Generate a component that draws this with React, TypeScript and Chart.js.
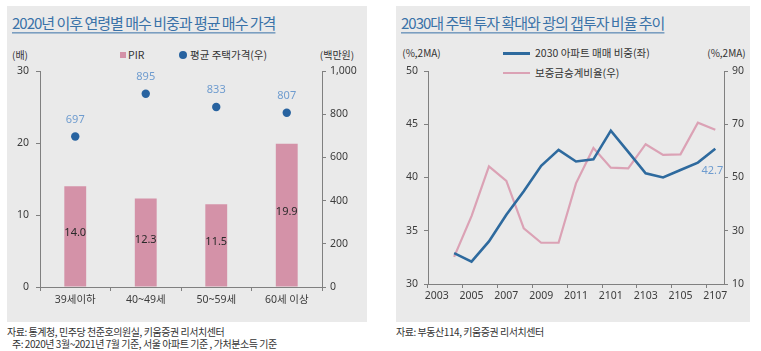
import React, { useEffect, useRef } from "react";
import { Chart, registerables } from "chart.js";

Chart.register(...registerables);

// ---------- Data ----------
const ageCategories = ["39세이하", "40~49세", "50~59세", "60세 이상"];
const pirValues = [14.0, 12.3, 11.5, 19.9];
const avgPriceValues = [697, 895, 833, 807];

const monthLabels = [
  "2003", "2004", "2005", "2006", "2007", "2008", "2009", "2010", "2011", "2012",
  "2101", "2102", "2103", "2104", "2105", "2106", "2107",
];
const youngShareValues = [
  null, 32.9, 32.1, 34.0, 36.5, 38.7, 41.1, 42.6, 41.5, 41.7,
  44.4, 42.4, 40.4, 40.0, 40.7, 41.4, 42.7,
];
const depositRatioValues = [
  null, 20.2, 35.5, 54.2, 48.7, 30.9, 25.5, 25.5, 47.8, 61.1,
  53.7, 53.4, 62.5, 58.5, 58.7, 70.6, 67.9,
];

// ---------- Styles ----------
const PINK_BAR = "#D492A8";
const BLUE_DOT = "#2863A0";
const BLUE_LINE = "#2E6A9E";
const PINK_LINE = "#DBA2B5";
const LABEL_BLUE = "#6F9CCF";
const AXIS = "#808080";
const TICK_TEXT = "#3c3c3c";
const PANEL_BG = "#EAEAEA";
const TITLE_BLUE = "#3A72A8";
const FONT = "'Noto Sans', 'Noto Sans CJK KR', sans-serif";
const KFONT = "'Noto Sans CJK KR', 'Noto Sans', sans-serif";

Chart.defaults.font.family = FONT;
Chart.defaults.color = TICK_TEXT;

const valueLabelPlugin = {
  id: "valueLabels",
  afterDatasetsDraw(chart: any) {
    const ctx = chart.ctx;
    chart.data.datasets.forEach((ds: any, di: number) => {
      const cfg = ds.valueLabel;
      if (!cfg) return;
      const meta = chart.getDatasetMeta(di);
      meta.data.forEach((el: any, i: number) => {
        const v = ds.data[i];
        if (v === null || v === undefined) return;
        if (cfg.onlyLast && i !== ds.data.length - 1) return;
        let x = el.x + (cfg.dx || 0);
        let y: number;
        if (cfg.mode === "barCenter") y = (el.y + el.base) / 2 + (cfg.dy || 0);
        else y = el.y + (cfg.dy || 0);
        ctx.save();
        ctx.font = cfg.font;
        ctx.fillStyle = cfg.color;
        ctx.textAlign = "center";
        ctx.textBaseline = "middle";
        ctx.fillText(cfg.format(v), x, y);
        ctx.restore();
      });
    });
  },
};

function Txt(props: {
  x: number; y: number; size: number; color?: string; children: any;
  center?: boolean; right?: boolean; family?: string; ls?: number; weight?: number; underline?: boolean;
}) {
  const tx = props.center ? "-50%" : props.right ? "-100%" : "0";
  return (
    <div
      style={{
        position: "absolute",
        left: props.x,
        top: props.y,
        transform: `translate(${tx}, -50%)`,
        fontSize: props.size,
        lineHeight: 1.15,
        color: props.color || "#333",
        fontFamily: props.family || KFONT,
        letterSpacing: props.ls ?? 0,
        whiteSpace: "nowrap",
        fontWeight: props.weight ?? 400,
        textDecoration: props.underline ? "underline" : "none",
        textUnderlineOffset: 3,
      }}
    >
      {props.children}
    </div>
  );
}

function LeftChart() {
  const ref = useRef<HTMLCanvasElement>(null);
  useEffect(() => {
    const chart = new Chart(ref.current!, {
      type: "bar",
      data: {
        labels: ageCategories,
        datasets: [
          {
            type: "line",
            label: "평균 주택가격(우)",
            data: avgPriceValues,
            yAxisID: "y1",
            showLine: false,
            pointRadius: 4.2,
            pointBackgroundColor: BLUE_DOT,
            pointBorderWidth: 0,
            order: 1,
            valueLabel: { color: LABEL_BLUE, font: `11px ${FONT}`, dy: -17, format: (v: number) => String(v) },
          } as any,
          {
            type: "bar",
            label: "PIR",
            data: pirValues,
            yAxisID: "y",
            backgroundColor: PINK_BAR,
            barPercentage: 0.31,
            categoryPercentage: 1,
            order: 2,
            valueLabel: { mode: "barCenter", color: "#2a2a2a", font: `11px ${FONT}`, dy: -3, format: (v: number) => v.toFixed(1) },
          } as any,
        ],
      },
      options: {
        animation: false,
        responsive: false,
        maintainAspectRatio: false,
        layout: { padding: { top: 31, left: 0, right: 0, bottom: 0 } },
        plugins: { legend: { display: false }, tooltip: { enabled: false }, title: { display: false } },
        scales: {
          x: {
            offset: true,
            grid: { display: true, drawOnChartArea: false, drawTicks: true, tickLength: 4, color: AXIS, offset: true },
            border: { color: AXIS },
            ticks: { font: { size: 10.5 }, padding: 3, color: TICK_TEXT, maxRotation: 0, autoSkip: false },
            afterFit: (s: any) => { s.height = 35; },
          },
          y: {
            position: "left",
            min: 0,
            max: 30,
            ticks: { stepSize: 10, padding: 7, font: { size: 10.5 }, color: TICK_TEXT },
            grid: { drawOnChartArea: false, tickLength: 4, color: AXIS },
            border: { color: AXIS },
            afterFit: (s: any) => { s.width = 33; },
          },
          y1: {
            position: "right",
            min: 0,
            max: 1000,
            ticks: { stepSize: 200, padding: 4, font: { size: 10.5 }, color: TICK_TEXT },
            grid: { drawOnChartArea: false, tickLength: 4, color: AXIS },
            border: { color: AXIS },
            afterFit: (s: any) => { s.width = 45; },
          },
        },
      } as any,
      plugins: [valueLabelPlugin],
    });
    return () => chart.destroy();
  }, []);
  return (
    <canvas
      ref={ref}
      width={360}
      height={282}
      style={{ position: "absolute", left: 7, top: 40, width: 360, height: 282 }}
    />
  );
}

function RightChart() {
  const ref = useRef<HTMLCanvasElement>(null);
  useEffect(() => {
    const chart = new Chart(ref.current!, {
      type: "line",
      data: {
        labels: monthLabels,
        datasets: [
          {
            label: "2030 아파트 매매 비중(좌)",
            data: youngShareValues,
            yAxisID: "y",
            borderColor: BLUE_LINE,
            borderWidth: 2.6,
            pointRadius: 0,
            tension: 0,
            order: 1,
            valueLabel: { onlyLast: true, color: LABEL_BLUE, font: `11px ${FONT}`, dx: -3, dy: 22, format: (v: number) => v.toFixed(1) },
          } as any,
          {
            label: "보증금승계비율(우)",
            data: depositRatioValues,
            yAxisID: "y1",
            borderColor: PINK_LINE,
            borderWidth: 2.2,
            pointRadius: 0,
            tension: 0,
            order: 2,
          } as any,
        ],
      },
      options: {
        animation: false,
        responsive: false,
        maintainAspectRatio: false,
        layout: { padding: { top: 31, left: 0, right: 0, bottom: 0 } },
        plugins: { legend: { display: false }, tooltip: { enabled: false }, title: { display: false } },
        scales: {
          x: {
            type: "category",
            offset: true,
            grid: {
              display: true,
              drawOnChartArea: false,
              drawTicks: true,
              tickLength: 4,
              offset: true,
              color: (c: any) => (c.index % 2 === 0 ? AXIS : "rgba(0,0,0,0)"),
            },
            border: { color: AXIS },
            ticks: {
              autoSkip: false,
              maxRotation: 0,
              padding: 2,
              font: { size: 10.5 },
              color: TICK_TEXT,
              callback: function (this: any, val: any, idx: number) {
                return idx % 2 === 0 ? this.getLabelForValue(val) : "";
              },
            },
            afterFit: (s: any) => { s.height = 38; },
          },
          y: {
            position: "left",
            min: 30,
            max: 50,
            ticks: { stepSize: 5, padding: 6, font: { size: 10.5 }, color: TICK_TEXT },
            grid: { drawOnChartArea: false, tickLength: 4, color: AXIS },
            border: { color: AXIS },
            afterFit: (s: any) => { s.width = 32; },
          },
          y1: {
            position: "right",
            min: 10,
            max: 90,
            ticks: { stepSize: 20, padding: 4, font: { size: 10.5 }, color: TICK_TEXT },
            grid: { drawOnChartArea: false, tickLength: 4, color: AXIS },
            border: { color: AXIS },
            afterFit: (s: any) => { s.width = 26; },
          },
        },
      } as any,
      plugins: [valueLabelPlugin],
    });
    return () => chart.destroy();
  }, []);
  return (
    <canvas
      ref={ref}
      width={354}
      height={282}
      style={{ position: "absolute", left: 396, top: 40, width: 354, height: 282 }}
    />
  );
}

export default function App() {
  return (
    <div
      style={{
        position: "absolute",
        left: 0,
        top: 0,
        width: 761,
        height: 351,
        background: "#fff",
        overflow: "hidden",
        fontFamily: KFONT,
      }}
    >
      {/* panels */}
      <div style={{ position: "absolute", left: 7, top: 6, width: 360, height: 316, background: PANEL_BG }} />
      <div style={{ position: "absolute", left: 396, top: 6, width: 354, height: 316, background: PANEL_BG }} />

      {/* titles */}
      <Txt x={12} y={23} size={15} color={TITLE_BLUE} ls={-1} underline>
        2020년 이후 연령별 매수 비중과 평균 매수 가격
      </Txt>
      <Txt x={401} y={23} size={15} color={TITLE_BLUE} ls={-1} underline>
        2030대 주택 투자 확대와 광의 갭투자 비율 추이
      </Txt>

      {/* left chart header */}
      <Txt x={20} y={55} size={10} center>(배)</Txt>
      <Txt x={337} y={55} size={10} center>(백만원)</Txt>
      <div style={{ position: "absolute", left: 120, top: 52, width: 6, height: 6, background: PINK_BAR }} />
      <Txt x={128} y={55} size={10.5}>PIR</Txt>
      <div style={{ position: "absolute", left: 179, top: 51, width: 8, height: 8, borderRadius: 4, background: BLUE_DOT }} />
      <Txt x={190} y={55} size={10.5}>평균 주택가격(우)</Txt>

      {/* right chart header */}
      <Txt x={421.5} y={53} size={10} center>(%,2MA)</Txt>
      <Txt x={726.5} y={53} size={10} center>(%,2MA)</Txt>
      <div style={{ position: "absolute", left: 503, top: 52, width: 27, height: 2.5, background: BLUE_LINE }} />
      <Txt x={535} y={53} size={10.5}>2030 아파트 매매 비중(좌)</Txt>
      <div style={{ position: "absolute", left: 503, top: 72, width: 27, height: 2, background: PINK_LINE }} />
      <Txt x={535} y={73} size={10.5}>보증금승계비율(우)</Txt>

      <LeftChart />
      <RightChart />

      {/* footers */}
      <Txt x={7} y={332} size={10} ls={-0.45}>자료: 통계청, 민주당 천준호의원실, 키움증권 리서치센터</Txt>
      <Txt x={12} y={343.5} size={10} ls={-0.45}>주: 2020년 3월~2021년 7월 기준, 서울 아파트 기준 , 가처분소득 기준</Txt>
      <Txt x={396} y={332} size={10} ls={-0.45}>자료: 부동산114, 키움증권 리서치센터</Txt>
    </div>
  );
}
